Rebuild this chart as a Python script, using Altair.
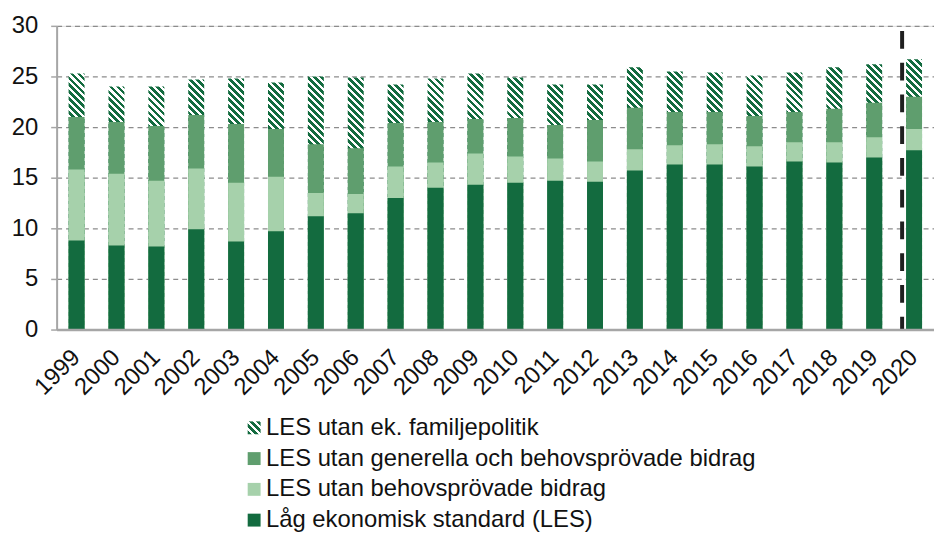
import json
import altair as alt
import pandas as pd

# ---------------- data ----------------
years = [str(y) for y in range(1999, 2021)]
series_names = [
    "LES utan ek. familjepolitik",
    "LES utan generella och behovsprövade bidrag",
    "LES utan behovsprövade bidrag",
    "Låg ekonomisk standard (LES)",
]
les_utan_fam = [25.3, 24.0, 24.0, 24.7, 24.8, 24.4, 25.0, 24.9, 24.2, 24.8, 25.3,
                24.9, 24.2, 24.2, 25.9, 25.5, 25.4, 25.1, 25.4, 25.9, 26.2, 26.7]
les_utan_gen = [21.0, 20.5, 20.1, 21.2, 20.3, 19.8, 18.3, 17.9, 20.4, 20.5, 20.8,
                20.9, 20.2, 20.7, 21.9, 21.5, 21.5, 21.1, 21.5, 21.8, 22.4, 23.0]
les_utan_behov = [15.8, 15.4, 14.7, 15.9, 14.5, 15.1, 13.5, 13.4, 16.1, 16.5, 17.4,
                  17.1, 16.9, 16.6, 17.8, 18.2, 18.3, 18.1, 18.5, 18.5, 19.0, 19.8]
les = [8.8, 8.3, 8.2, 9.9, 8.7, 9.7, 11.2, 11.5, 13.0, 14.0, 14.3,
       14.5, 14.7, 14.6, 15.7, 16.3, 16.3, 16.1, 16.6, 16.5, 17.0, 17.7]
y_ticks = [0, 5, 10, 15, 20, 25, 30]
marker_year = ["2020"]

# ---------------- styles ----------------
DARK = "#136B3F"
MID = "#5F9E6E"
LIGHT = "#A6D1AB"
WHITE = "#FFFFFF"
FONT = "Liberation Sans"
FS = 24
W, H, YMAX = 884, 306, 30
PAD_INNER = 0.6
step = W / len(years)
bar_w = step * (1 - PAD_INNER)
PERIOD = 7.0      # stripe period in px (horizontal)
DARK_FRAC = 0.55  # share of each period that is dark


def stripe_stops(n):
    stops = []
    k = 0
    while k < n:
        a = k / n
        b = min((k + DARK_FRAC) / n, 1.0)
        c = min((k + 1) / n, 1.0)
        stops += [
            {"offset": round(a, 5), "color": DARK},
            {"offset": round(b, 5), "color": DARK},
            {"offset": round(b, 5), "color": WHITE},
            {"offset": round(c, 5), "color": WHITE},
        ]
        k += 1
    return stops


def hatch_gradient(w, h):
    s = (w + h) / (w * w + h * h)
    n = (w + h) / PERIOD
    return {
        "gradient": "linear",
        "x1": 0, "y1": 1,
        "x2": round(w * s, 5), "y2": round(1 - h * s, 5),
        "stops": stripe_stops(n),
    }


legend_hatch_expr = json.dumps(hatch_gradient(13, 13))

df_hatch = pd.DataFrame({"year": years, "value": les_utan_fam})
df_solid = pd.concat([
    pd.DataFrame({"year": years, "series": series_names[1], "value": les_utan_gen}),
    pd.DataFrame({"year": years, "series": series_names[2], "value": les_utan_behov}),
    pd.DataFrame({"year": years, "series": series_names[3], "value": les}),
])
df_marker = pd.DataFrame({"year": marker_year})

x_enc = alt.X(
    "year:N",
    sort=years,
    scale=alt.Scale(domain=years, paddingInner=PAD_INNER, paddingOuter=PAD_INNER / 2),
    axis=alt.Axis(
        title=None, labelAngle=-45, labelAlign="right", labelBaseline="middle",
        labelPadding=24, ticks=False, tickSize=0, domainColor="#a6a6a6",
        domainWidth=2.5, labelFontSize=FS, labelColor="#111111", labelFont=FONT,
        grid=False, zindex=1,
    ),
)
y_scale = alt.Scale(domain=[0, YMAX], nice=False)
y_enc = alt.Y(
    "value:Q",
    scale=y_scale,
    axis=alt.Axis(
        title=None, values=y_ticks, grid=True, gridDash=[5, 4], gridColor="#8c8c8c",
        gridWidth=1.3, domainColor="#a6a6a6", domainWidth=2, tickColor="#a6a6a6",
        tickSize=6, tickWidth=1.5, labelPadding=13, labelFontSize=FS,
        labelColor="#111111", labelFont=FONT,
    ),
)

color_enc = alt.Color(
    "series:N",
    scale=alt.Scale(domain=series_names, range=[{"expr": legend_hatch_expr}, MID, LIGHT, DARK]),
    legend=alt.Legend(
        orient="none", legendX=187, legendY=393, direction="vertical", title=None,
        labelFontSize=FS, labelFont=FONT, labelColor="#111111", symbolSize=169,
        symbolType="square", symbolStrokeWidth=0, rowPadding=7, labelOffset=0,
        padding=0, labelLimit=0,
    ),
)

layers = []
for yr, total in zip(years, les_utan_fam):
    grad = hatch_gradient(bar_w, total / YMAX * H)
    layers.append(
        alt.Chart(df_hatch)
        .transform_filter(alt.datum.year == yr)
        .mark_bar(fill=grad, strokeWidth=0)
        .encode(x=x_enc, y=y_enc)
    )

for name in series_names[1:]:
    layers.append(
        alt.Chart(df_solid)
        .transform_filter(alt.datum.series == name)
        .mark_bar(strokeWidth=0, opacity=1)
        .encode(x=x_enc, y=y_enc, color=color_enc)
    )

rule = (
    alt.Chart(df_marker)
    .mark_rule(color="#1f1f1f", strokeWidth=4, strokeDash=[18, 14], xOffset=-4)
    .encode(x=alt.X("year:N", bandPosition=0), y=alt.datum(29.5), y2=alt.datum(0))
)
layers.append(rule)

chart = (
    alt.layer(*layers)
    .properties(width=W, height=H, padding={"left": 3, "top": 4, "right": 0, "bottom": 0})
    .configure_view(stroke=None)
    .configure(font=FONT)
)

chart.save("out.html", embed_options={"renderer": "svg", "actions": False})
